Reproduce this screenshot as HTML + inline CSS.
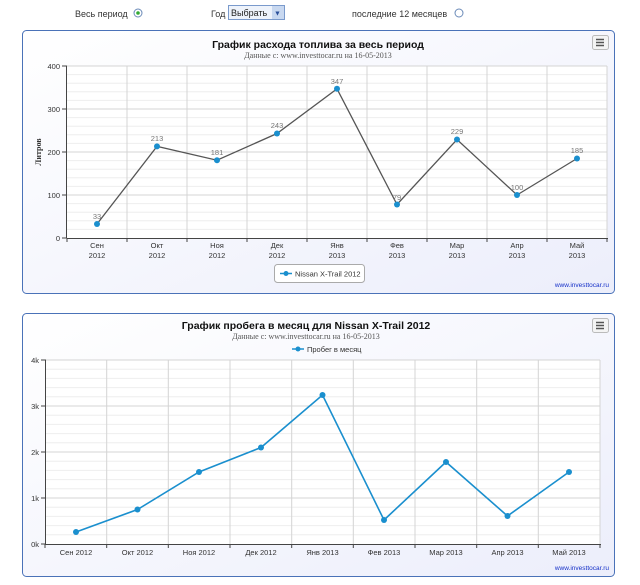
<!DOCTYPE html>
<html><head><meta charset="utf-8"><style>
body{margin:0;background:#fff;width:640px;height:585px;overflow:hidden;font-family:"Liberation Sans",sans-serif}
svg{display:block}
</style></head><body>
<svg width="640" height="585" xmlns="http://www.w3.org/2000/svg" font-family="Liberation Sans, DejaVu Sans, sans-serif">
<defs>
<linearGradient id="bg" x1="0" y1="0" x2="1" y2="1"><stop offset="0" stop-color="#ffffff"/><stop offset="1" stop-color="#eceefb"/></linearGradient>
</defs>
<text x="75" y="17" font-size="9" fill="#333">Весь период</text>
<circle cx="138" cy="13" r="4" fill="#fff" stroke="#6a8ab8"/><circle cx="138" cy="13" r="1.8" fill="#3a3"/>
<text x="211" y="17" font-size="9" fill="#333">Год</text>
<rect x="228.5" y="5.5" width="56" height="14" fill="#eef3fb" stroke="#7a9acc"/>
<text x="231" y="16" font-size="9" fill="#222">Выбрать</text>
<rect x="272" y="6" width="12" height="13" fill="#c8d8f0"/><text x="274" y="15.5" font-size="7" fill="#2a4f9a">▼</text>
<text x="352" y="17" font-size="9" fill="#333">последние 12 месяцев</text>
<circle cx="459" cy="13" r="4" fill="#fff" stroke="#6a8ab8"/>

<!-- Chart 1 -->
<rect x="22.5" y="30.5" width="592" height="263" rx="4" fill="url(#bg)" stroke="#4a72b8"/>
<text x="318" y="48" font-size="10.5" font-weight="bold" text-anchor="middle" fill="#111">График расхода топлива за весь период</text>
<text x="318" y="58" font-size="8" font-family="Liberation Serif, serif" text-anchor="middle" fill="#555">Данные с: www.investtocar.ru на 16-05-2013</text>
<rect x="592.5" y="35.5" width="16" height="14" rx="2" fill="#f4f4f4" stroke="#bbb"/>
<path d="M596 39.5h8M596 42.5h8M596 45.5h8" stroke="#555" stroke-width="1.5"/>
<rect x="67" y="66" width="540" height="172" fill="#fff"/>
<g stroke="#eee" stroke-width="1">
<path d="M67 74.6H607M67 83.2H607M67 91.8H607M67 100.4H607M67 117.6H607M67 126.2H607M67 134.8H607M67 143.4H607M67 160.6H607M67 169.2H607M67 177.8H607M67 186.4H607M67 203.6H607M67 212.2H607M67 220.8H607M67 229.4H607"/>
</g>
<g stroke="#d4d4d4" stroke-width="1">
<path d="M67 66H607M67 109H607M67 152H607M67 195H607"/>
<path d="M127 66V238M187 66V238M247 66V238M307 66V238M367 66V238M427 66V238M487 66V238M547 66V238M607 66V238"/>
</g>
<path d="M66.5 66V238M62 66h5M62 109h5M62 152h5M62 195h5M62 238h5" stroke="#444"/>
<path d="M67 238.5H608M67 238v4M127 238v4M187 238v4M247 238v4M307 238v4M367 238v4M427 238v4M487 238v4M547 238v4M607 238v4" stroke="#444"/>
<g font-size="7.5" fill="#333" text-anchor="end"><text x="60" y="69">400</text><text x="60" y="112">300</text><text x="60" y="155">200</text><text x="60" y="198">100</text><text x="60" y="241">0</text></g>
<text transform="translate(41,152) rotate(-90)" font-size="8" font-weight="bold" font-family="Liberation Serif, serif" text-anchor="middle" fill="#333">Литров</text>
<g font-size="7.5" fill="#333" text-anchor="middle">
<text x="97" y="248">Сен</text><text x="97" y="258">2012</text>
<text x="157" y="248">Окт</text><text x="157" y="258">2012</text>
<text x="217" y="248">Ноя</text><text x="217" y="258">2012</text>
<text x="277" y="248">Дек</text><text x="277" y="258">2012</text>
<text x="337" y="248">Янв</text><text x="337" y="258">2013</text>
<text x="397" y="248">Фев</text><text x="397" y="258">2013</text>
<text x="457" y="248">Мар</text><text x="457" y="258">2013</text>
<text x="517" y="248">Апр</text><text x="517" y="258">2013</text>
<text x="577" y="248">Май</text><text x="577" y="258">2013</text>
</g>
<polyline fill="none" stroke="#555" stroke-width="1.3" points="97,224 157,146.4 217,160.2 277,133.5 337,88.8 397,204.5 457,139.5 517,195 577,158.5"/>
<g fill="#1a8fce"><circle cx="97" cy="224" r="3"/><circle cx="157" cy="146.4" r="3"/><circle cx="217" cy="160.2" r="3"/><circle cx="277" cy="133.5" r="3"/><circle cx="337" cy="88.8" r="3"/><circle cx="397" cy="204.5" r="3"/><circle cx="457" cy="139.5" r="3"/><circle cx="517" cy="195" r="3"/><circle cx="577" cy="158.5" r="3"/></g>
<g font-size="7.5" fill="#777" text-anchor="middle">
<text x="97" y="219">33</text><text x="157" y="141">213</text><text x="217" y="155">181</text><text x="277" y="128">243</text><text x="337" y="84">347</text><text x="397" y="200">79</text><text x="457" y="134">229</text><text x="517" y="190">100</text><text x="577" y="153">185</text>
</g>
<rect x="274.5" y="264.5" width="90" height="18" rx="3" fill="#fff" stroke="#aaa"/>
<path d="M280 273.5h12" stroke="#1a8fce" stroke-width="1.5"/><circle cx="286" cy="273.5" r="2.5" fill="#1a8fce"/>
<text x="295" y="276.5" font-size="7.5" fill="#333">Nissan X-Trail 2012</text>
<text x="609" y="287" font-size="6.5" fill="#1530c8" text-anchor="end">www.investtocar.ru</text>

<!-- Chart 2 -->
<rect x="22.5" y="313.5" width="592" height="263" rx="4" fill="url(#bg)" stroke="#4a72b8"/>
<text x="306" y="329" font-size="10.5" font-weight="bold" text-anchor="middle" fill="#111">График пробега в месяц для Nissan X-Trail 2012</text>
<text x="306" y="339" font-size="8" font-family="Liberation Serif, serif" text-anchor="middle" fill="#555">Данные с: www.investtocar.ru на 16-05-2013</text>
<rect x="592.5" y="318.5" width="16" height="14" rx="2" fill="#f4f4f4" stroke="#bbb"/>
<path d="M596 322.5h8M596 325.5h8M596 328.5h8" stroke="#555" stroke-width="1.5"/>
<path d="M292 349h12" stroke="#1a8fce" stroke-width="1.5"/><circle cx="298" cy="349" r="2.5" fill="#1a8fce"/>
<text x="307" y="352" font-size="7.5" fill="#333">Пробег в месяц</text>
<rect x="45" y="360" width="555" height="184" fill="#fff"/>
<g stroke="#eee"><path d="M45 369.2H600M45 378.4H600M45 387.6H600M45 396.8H600M45 415.2H600M45 424.4H600M45 433.6H600M45 442.8H600M45 461.2H600M45 470.4H600M45 479.6H600M45 488.8H600M45 507.2H600M45 516.4H600M45 525.6H600M45 534.8H600"/></g>
<g stroke="#d4d4d4"><path d="M45 360H600M45 406H600M45 452H600M45 498H600"/>
<path d="M106.7 360V544M168.3 360V544M230 360V544M291.7 360V544M353.3 360V544M415 360V544M476.7 360V544M538.3 360V544M600 360V544"/></g>
<path d="M45.5 360V544M41 360h5M41 406h5M41 452h5M41 498h5M41 544h5" stroke="#444"/>
<path d="M45 544.5H601M45 544v4M106.7 544v4M168.3 544v4M230 544v4M291.7 544v4M353.3 544v4M415 544v4M476.7 544v4M538.3 544v4M600 544v4" stroke="#444"/>
<g font-size="7.5" fill="#333" text-anchor="end"><text x="39" y="363">4k</text><text x="39" y="409">3k</text><text x="39" y="455">2k</text><text x="39" y="501">1k</text><text x="39" y="547">0k</text></g>
<g font-size="7.5" fill="#333" text-anchor="middle">
<text x="76" y="555">Сен 2012</text><text x="137.5" y="555">Окт 2012</text><text x="199" y="555">Ноя 2012</text><text x="261" y="555">Дек 2012</text><text x="322.5" y="555">Янв 2013</text><text x="384" y="555">Фев 2013</text><text x="446" y="555">Мар 2013</text><text x="507.5" y="555">Апр 2013</text><text x="569" y="555">Май 2013</text>
</g>
<polyline fill="none" stroke="#1a8fce" stroke-width="1.6" points="76,532 137.5,509.5 199,472 261,447.5 322.5,395 384,520 446,462 507.5,516 569,472"/>
<g fill="#1a8fce"><circle cx="76" cy="532" r="3"/><circle cx="137.5" cy="509.5" r="3"/><circle cx="199" cy="472" r="3"/><circle cx="261" cy="447.5" r="3"/><circle cx="322.5" cy="395" r="3"/><circle cx="384" cy="520" r="3"/><circle cx="446" cy="462" r="3"/><circle cx="507.5" cy="516" r="3"/><circle cx="569" cy="472" r="3"/></g>
<text x="609" y="570" font-size="6.5" fill="#1530c8" text-anchor="end">www.investtocar.ru</text>
</svg>
</body></html>
